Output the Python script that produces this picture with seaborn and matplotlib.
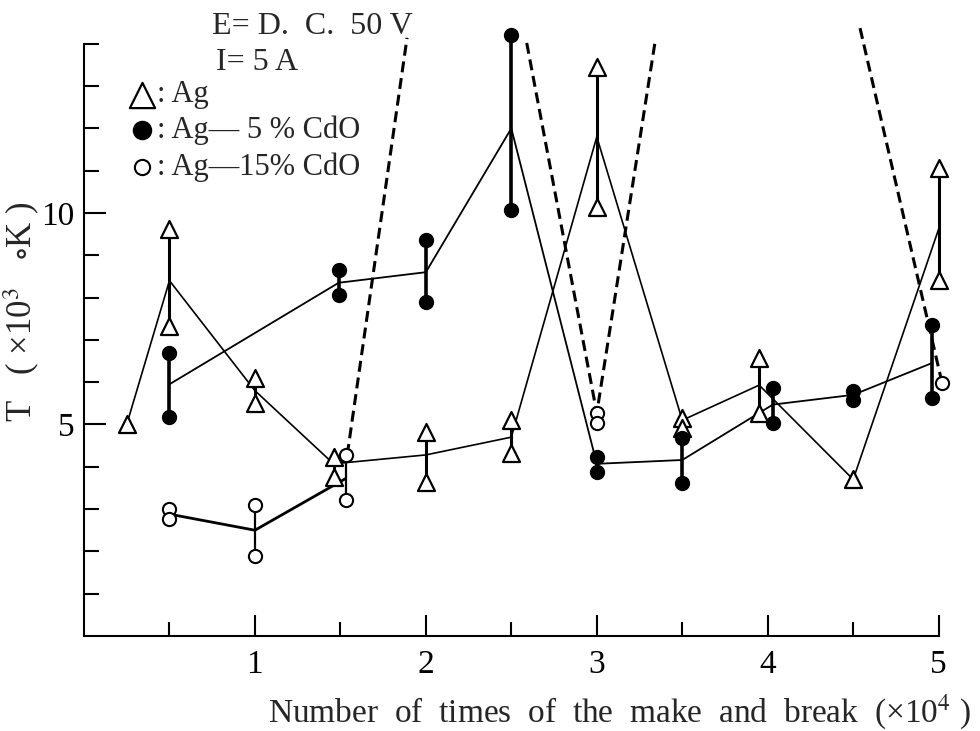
import numpy as np
import pandas as pd
import matplotlib
matplotlib.use("Agg")
import matplotlib.pyplot as plt
import seaborn as sns

# ---------------------------------------------------------
# DATA (T in 10^3 K)
# ---------------------------------------------------------
# Ag (open triangles): mean line value, upper and lower readings
ag_x = [0.25, 0.5, 1.0, 1.46, 2.0, 2.5, 3.0, 3.5, 3.95, 4.5, 5.0]
ag_mean = [5.0, 8.4, 5.8, 4.07, 4.28, 4.7, 11.8, 5.1, 5.93, 3.7, 9.62]
ag_hi = [5.0, 9.62, 6.1, 4.23, 4.82, 5.1, 13.45, 5.15, 6.57, 3.7, 11.06]
ag_lo = [5.0, 7.32, 5.5, 3.76, 3.64, 4.33, 10.14, 4.92, 5.27, 3.7, 8.42]

# Ag-5%CdO (filled circles)
cd5_x = [0.5, 1.49, 2.0, 2.5, 3.0, 3.5, 4.03, 4.5, 4.96]
cd5_mean = [5.95, 8.35, 8.6, 12.0, 4.07, 4.16, 5.47, 5.7, 6.45]
cd5_hi = [6.68, 8.65, 9.36, 14.2, 4.23, 4.68, 5.86, 5.8, 7.35]
cd5_lo = [5.18, 8.06, 7.9, 10.07, 3.88, 3.62, 5.03, 5.57, 5.63]

# Ag-15%CdO (open circles), connected part
cd15_x = [0.5, 1.0, 1.53]
cd15_mean = [2.88, 2.5, 3.72]
cd15_hi = [3.0, 3.1, 4.28]
cd15_lo = [2.77, 1.9, 3.22]
# Ag-15%CdO points reached only by the off-scale dashed lines
cd15_px = [3.0, 3.0, 5.02]
cd15_py = [5.27, 5.03, 5.98]

# off-scale dashed runs of Ag-15%CdO
dash_x = [[1.54, 1.89], [2.59, 3.0, 3.34], [4.54, 5.02]]
dash_y = [[4.28, 14.14], [14.02, 5.27, 14.02], [14.37, 5.98]]

x_major = [1, 2, 3, 4, 5]
x_minor = [0.5, 1.5, 2.5, 3.5, 4.5]
y_major = [5, 10]
y_minor = [1, 2, 3, 4, 6, 7, 8, 9, 11, 12, 13, 14]

# ---------------------------------------------------------
# PLOT
# ---------------------------------------------------------
sns.set_theme(style="ticks")
plt.rcParams['font.family'] = ['Liberation Serif', 'DejaVu Serif']
plt.rcParams['mathtext.fontset'] = 'stix'

fig = plt.figure(figsize=(9.8, 7.31), dpi=100)
ax = fig.add_axes([0.0857, 0.130, 0.907, 0.868])

ag = pd.DataFrame({"x": ag_x, "mean": ag_mean, "hi": ag_hi, "lo": ag_lo})
cd5 = pd.DataFrame({"x": cd5_x, "mean": cd5_mean, "hi": cd5_hi, "lo": cd5_lo})
cd15 = pd.DataFrame({"x": cd15_x, "mean": cd15_mean, "hi": cd15_hi, "lo": cd15_lo})

# mean lines
sns.lineplot(data=ag, x="x", y="mean", estimator=None, sort=False,
             color="black", lw=1.2, ax=ax, zorder=2)
sns.lineplot(data=cd5, x="x", y="mean", estimator=None, sort=False,
             color="black", lw=1.3, ax=ax, zorder=2)
sns.lineplot(data=cd15, x="x", y="mean", estimator=None, sort=False,
             color="black", lw=2.0, ax=ax, zorder=2)

for xs, ys in zip(dash_x, dash_y):
    ax.plot(xs, ys, color="black", lw=2.2, dashes=(3.6, 1.9), zorder=2)

# scatter bars between readings
ax.vlines(ag["x"], ag["lo"], ag["hi"], color="black", lw=2.2, zorder=3)
ax.vlines(cd5["x"], cd5["lo"], cd5["hi"], color="black", lw=2.6, zorder=3)
ax.vlines(cd15["x"], cd15["lo"], cd15["hi"], color="black", lw=1.6, zorder=3)

# markers
ag_pts = pd.DataFrame({"x": ag_x + ag_x, "y": ag_hi + ag_lo}).drop_duplicates()
cd5_pts = pd.DataFrame({"x": cd5_x + cd5_x, "y": cd5_hi + cd5_lo})
cd15_pts = pd.DataFrame({"x": cd15_x + cd15_x + cd15_px,
                         "y": cd15_hi + cd15_lo + cd15_py})

sns.scatterplot(data=ag_pts, x="x", y="y", marker="^", s=150, color="white",
                edgecolor="black", linewidth=1.6, ax=ax, zorder=4)
sns.scatterplot(data=cd5_pts, x="x", y="y", marker="o", s=100, color="black",
                edgecolor="black", linewidth=1.0, ax=ax, zorder=4)
sns.scatterplot(data=cd15_pts, x="x", y="y", marker="o", s=90, color="white",
                edgecolor="black", linewidth=1.5, ax=ax, zorder=4)

# conditions and key
ax.text(0.75, 14.4, "E= D.  C.  50 V", fontsize=23, va="center", ha="left")
ax.text(0.77, 13.55, "I= 5 A", fontsize=23, va="center", ha="left")

ax.scatter([0.34], [12.79], marker="^", s=330, color="white", edgecolor="black", linewidth=1.6)
ax.scatter([0.34], [11.96], marker="o", s=170, color="black", edgecolor="black")
ax.scatter([0.34], [11.09], marker="o", s=120, color="white", edgecolor="black", linewidth=1.5)
ax.text(0.43, 12.79, ": Ag", fontsize=22, va="center", ha="left")
ax.text(0.43, 11.96, ": Ag\u2014 5 % CdO", fontsize=22, va="center", ha="left")
ax.text(0.43, 11.09, ": Ag\u201415% CdO", fontsize=22, va="center", ha="left")

# axes
ax.set_xlim(0, 5.2)
ax.set_ylim(0, 15)
ax.set_xticks(x_major)
ax.set_xticks(x_minor, minor=True)
ax.set_yticks(y_major)
ax.set_yticks(y_minor, minor=True)
ax.tick_params(axis="both", which="both", direction="in", width=1.5,
               color="black", labelsize=24, labelcolor="black")
ax.tick_params(axis="x", which="major", length=15, pad=10)
ax.tick_params(axis="x", which="minor", length=10)
ax.tick_params(axis="y", which="major", length=16, pad=7)
ax.tick_params(axis="y", which="minor", length=11)

sns.despine(ax=ax)
ax.spines["left"].set_bounds(0, 14)
ax.spines["bottom"].set_bounds(0, 5)
for s in ("left", "bottom"):
    ax.spines[s].set_linewidth(1.5)
    ax.spines[s].set_color("black")

ax.set_xlabel("Number  of  times  of  the  make  and  break  (\u00d710$^{4}$ )", fontsize=24)
ax.xaxis.set_label_coords(0.603, -0.12)
ax.xaxis.label.set_va("center")
ax.set_ylabel("T   ( \u00d710$^{3}$   $\\circ$K )", fontsize=25)
ax.yaxis.set_label_coords(-0.07, 0.51)
ax.yaxis.label.set_va("center")

fig.savefig("out.png", dpi=100, facecolor="white")
